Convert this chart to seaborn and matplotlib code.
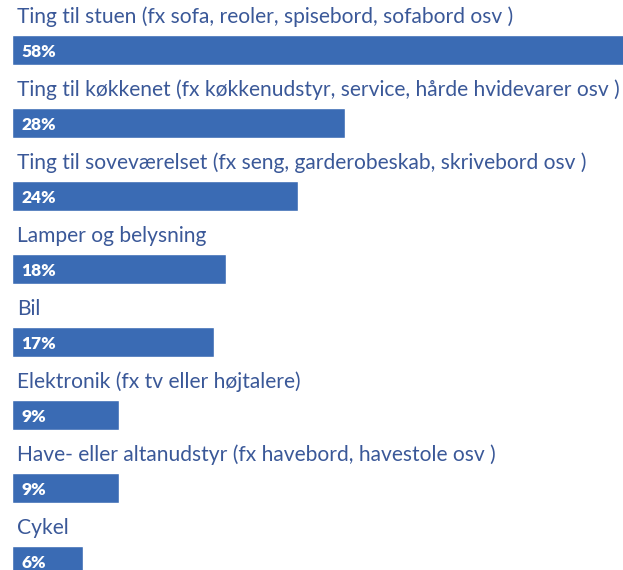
import matplotlib
matplotlib.use("Agg")
import matplotlib.pyplot as plt
import seaborn as sns
import pandas as pd

# Data
categories = [
    "Ting til stuen (fx sofa, reoler, spisebord, sofabord osv )",
    "Ting til køkkenet (fx køkkenudstyr, service, hårde hvidevarer osv )",
    "Ting til soveværelset (fx seng, garderobeskab, skrivebord osv )",
    "Lamper og belysning",
    "Bil",
    "Elektronik (fx tv eller højtalere)",
    "Have- eller altanudstyr (fx havebord, havestole osv )",
    "Cykel",
]
values = [58, 28, 24, 18, 17, 9, 9, 6]
value_labels = ["58%", "28%", "24%", "18%", "17%", "9%", "9%", "6%"]

bar_color = "#3a6bb4"
text_color = "#3a5898"

df = pd.DataFrame({"category": categories, "value": values})

sns.set_theme(style="white")
plt.rcParams["font.family"] = ["Lato", "DejaVu Sans"]

fig = plt.figure(figsize=(6.23, 5.70), dpi=100)
ax = fig.add_axes([12 / 623, 0, 611 / 623, 1])

sns.barplot(data=df, x="value", y="category", orient="h", color=bar_color,
            width=30 / 73, saturation=1, ax=ax)

ax.set_xlim(0, 611 / 11.9)
ax.set_ylim(7.123, -0.685)

for i, (cat, lab) in enumerate(zip(categories, value_labels)):
    ax.text(0.42, i - 0.45, cat, ha="left", va="center", fontsize=15.1,
            color=text_color)
    ax.text(0.8, i + 0.03, lab, ha="left", va="center", fontsize=12.5,
            color="white", fontweight="heavy")

ax.set_xlabel("")
ax.set_ylabel("")
ax.set_xticks([])
ax.set_yticks([])
for s in ax.spines.values():
    s.set_visible(False)

fig.savefig("out.png", dpi=100)
